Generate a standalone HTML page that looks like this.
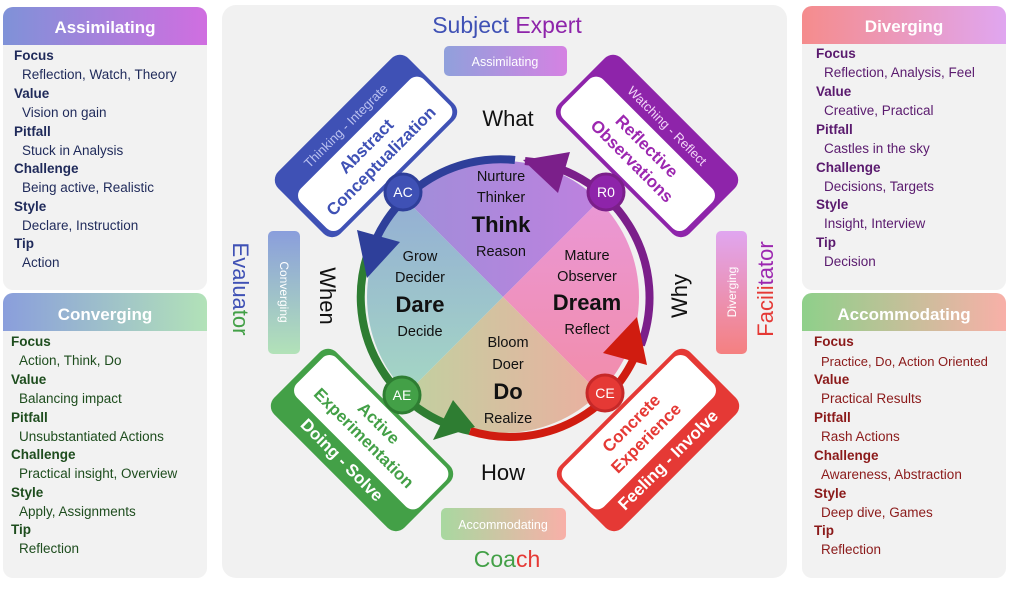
<!DOCTYPE html>
<html><head><meta charset="utf-8"><style>
html,body{margin:0;padding:0;background:#fff;}
svg{display:block;font-family:"Liberation Sans",sans-serif;}
</style></head><body>
<svg width="1024" height="591" viewBox="0 0 1024 591" xmlns="http://www.w3.org/2000/svg">
<defs>
<linearGradient id="gA" x1="0" x2="1"><stop offset="0" stop-color="#7f92d8"/><stop offset="1" stop-color="#d06ee0"/></linearGradient>
<linearGradient id="gC" x1="0" x2="1"><stop offset="0" stop-color="#8a9edc"/><stop offset="1" stop-color="#b2e2b8"/></linearGradient>
<linearGradient id="gD" x1="0" x2="1"><stop offset="0" stop-color="#f58c8c"/><stop offset="1" stop-color="#e0a6f0"/></linearGradient>
<linearGradient id="gM" x1="0" x2="1"><stop offset="0" stop-color="#8ed08a"/><stop offset="1" stop-color="#f8b0a8"/></linearGradient>
<linearGradient id="gAcc" x1="0" x2="1"><stop offset="0" stop-color="#a8d8a0"/><stop offset="1" stop-color="#f8b0a8"/></linearGradient>
<linearGradient id="gCv" x1="0" y1="0" x2="0" y2="1"><stop offset="0" stop-color="#8a9edc"/><stop offset="1" stop-color="#b2e2b8"/></linearGradient>
<linearGradient id="gDv" x1="0" y1="0" x2="0" y2="1"><stop offset="0" stop-color="#e0a6f0"/><stop offset="1" stop-color="#f58080"/></linearGradient>
<linearGradient id="gEv" x1="0" y1="0" x2="0" y2="1"><stop offset="0" stop-color="#3f51b5"/><stop offset="1" stop-color="#43a047"/></linearGradient>
<linearGradient id="gFa" x1="0" y1="0" x2="0" y2="1"><stop offset="0" stop-color="#9c27b0"/><stop offset="1" stop-color="#e53935"/></linearGradient>
<linearGradient id="qT" x1="0" x2="1"><stop offset="0" stop-color="#9a90d8"/><stop offset="1" stop-color="#c47ee0"/></linearGradient>
<linearGradient id="qR" x1="0" y1="0" x2="0" y2="1"><stop offset="0" stop-color="#e89ae0"/><stop offset="1" stop-color="#f48aa0"/></linearGradient>
<linearGradient id="qB" x1="0" x2="1"><stop offset="0" stop-color="#b8d8a0"/><stop offset="1" stop-color="#f4a8a0"/></linearGradient>
<linearGradient id="qL" x1="0" y1="0" x2="0" y2="1"><stop offset="0" stop-color="#90a6d8"/><stop offset="1" stop-color="#a8e0c0"/></linearGradient>
<clipPath id="cc"><circle cx="503" cy="297" r="136"/></clipPath>
</defs>

<!-- side cards -->
<g font-size="13.5">
<rect x="3" y="7" width="204" height="283" rx="10" fill="#f2f2f2"/>
<path d="M3 45V17a10 10 0 0 1 10-10h184a10 10 0 0 1 10 10v28z" fill="url(#gA)"/>
<text x="105" y="33" text-anchor="middle" fill="#fff" font-weight="bold" font-size="17">Assimilating</text>
<g fill="#1f2a5a"><text x="14" y="60" font-weight="bold">Focus</text><text x="22" y="79">Reflection, Watch, Theory</text><text x="14" y="98" font-weight="bold">Value</text><text x="22" y="117">Vision on gain</text><text x="14" y="136" font-weight="bold">Pitfall</text><text x="22" y="155">Stuck in Analysis</text><text x="14" y="173" font-weight="bold">Challenge</text><text x="22" y="192">Being active, Realistic</text><text x="14" y="211" font-weight="bold">Style</text><text x="22" y="230">Declare, Instruction</text><text x="14" y="248" font-weight="bold">Tip</text><text x="22" y="267">Action</text></g>

<rect x="3" y="293" width="204" height="285" rx="10" fill="#f2f2f2"/>
<path d="M3 331V303a10 10 0 0 1 10-10h184a10 10 0 0 1 10 10v28z" fill="url(#gC)"/>
<text x="105" y="320" text-anchor="middle" fill="#fff" font-weight="bold" font-size="17">Converging</text>
<g fill="#1e4d1e"><text x="11" y="346" font-weight="bold">Focus</text><text x="19" y="365">Action, Think, Do</text><text x="11" y="384" font-weight="bold">Value</text><text x="19" y="403">Balancing impact</text><text x="11" y="422" font-weight="bold">Pitfall</text><text x="19" y="441">Unsubstantiated Actions</text><text x="11" y="459" font-weight="bold">Challenge</text><text x="19" y="478">Practical insight, Overview</text><text x="11" y="497" font-weight="bold">Style</text><text x="19" y="516">Apply, Assignments</text><text x="11" y="534" font-weight="bold">Tip</text><text x="19" y="553">Reflection</text></g>

<rect x="802" y="6" width="204" height="284" rx="10" fill="#f2f2f2"/>
<path d="M802 44V16a10 10 0 0 1 10-10h184a10 10 0 0 1 10 10v28z" fill="url(#gD)"/>
<text x="904" y="32" text-anchor="middle" fill="#fff" font-weight="bold" font-size="17">Diverging</text>
<g fill="#5a1a6e"><text x="816" y="58" font-weight="bold">Focus</text><text x="824" y="77">Reflection, Analysis, Feel</text><text x="816" y="96" font-weight="bold">Value</text><text x="824" y="115">Creative, Practical</text><text x="816" y="134" font-weight="bold">Pitfall</text><text x="824" y="153">Castles in the sky</text><text x="816" y="172" font-weight="bold">Challenge</text><text x="824" y="191">Decisions, Targets</text><text x="816" y="209" font-weight="bold">Style</text><text x="824" y="228">Insight, Interview</text><text x="816" y="247" font-weight="bold">Tip</text><text x="824" y="266">Decision</text></g>

<rect x="802" y="293" width="204" height="285" rx="10" fill="#f2f2f2"/>
<path d="M802 331V303a10 10 0 0 1 10-10h184a10 10 0 0 1 10 10v28z" fill="url(#gM)"/>
<text x="904" y="320" text-anchor="middle" fill="#fff" font-weight="bold" font-size="17">Accommodating</text>
<g fill="#8b1a1a"><text x="814" y="346" font-weight="bold">Focus</text><text x="821" y="366" font-size="13">Practice, Do, Action Oriented</text><text x="814" y="384" font-weight="bold">Value</text><text x="821" y="403">Practical Results</text><text x="814" y="422" font-weight="bold">Pitfall</text><text x="821" y="441">Rash Actions</text><text x="814" y="460" font-weight="bold">Challenge</text><text x="821" y="479">Awareness, Abstraction</text><text x="814" y="498" font-weight="bold">Style</text><text x="821" y="517">Deep dive, Games</text><text x="814" y="535" font-weight="bold">Tip</text><text x="821" y="554">Reflection</text></g>
</g>

<!-- center panel -->
<rect x="222" y="5" width="565" height="573" rx="14" fill="#f1f1f1"/>
<text x="507" y="33" text-anchor="middle" font-size="23"><tspan fill="#3f51b5">Subject </tspan><tspan fill="#8e24aa">Expert</tspan></text>
<text x="507" y="567" text-anchor="middle" font-size="23"><tspan fill="#43a047">Coa</tspan><tspan fill="#e53935">ch</tspan></text>
<text transform="translate(233,289) rotate(90)" text-anchor="middle" font-size="22" fill="url(#gEv)" fill-opacity="1"><tspan fill="#3f51b5">Evalua</tspan><tspan fill="#43a047">tor</tspan></text>
<text transform="translate(773,289) rotate(-90)" text-anchor="middle" font-size="22"><tspan fill="#e53935">Facili</tspan><tspan fill="#9c27b0">tator</tspan></text>

<rect x="444" y="46" width="123" height="30" rx="5" fill="url(#gA)" opacity="0.85"/>
<text x="505" y="66" text-anchor="middle" fill="#fff" font-size="12.5">Assimilating</text>
<rect x="441" y="508" width="125" height="32" rx="5" fill="url(#gAcc)"/>
<text x="503" y="529" text-anchor="middle" fill="#fff" font-size="12.5">Accommodating</text>
<rect x="268" y="231" width="32" height="123" rx="5" fill="url(#gCv)"/>
<text transform="translate(280,292) rotate(90)" text-anchor="middle" fill="#fff" font-size="12">Converging</text>
<rect x="716" y="231" width="31" height="123" rx="5" fill="url(#gDv)"/>
<text transform="translate(736,292) rotate(-90)" text-anchor="middle" fill="#fff" font-size="12">Diverging</text>

<!-- quadrants -->
<g clip-path="url(#cc)">
<polygon points="503,297 363,157 643,157" fill="url(#qT)"/>
<polygon points="503,297 643,157 643,437" fill="url(#qR)"/>
<polygon points="503,297 643,437 363,437" fill="url(#qB)"/>
<polygon points="503,297 363,437 363,157" fill="url(#qL)"/>
</g>

<!-- arcs -->
<g fill="none" stroke-width="8">
<path d="M515 160 A137 137 0 0 0 370 255" stroke="#2e3f9a"/>
<path d="M369 250 A137 137 0 0 0 470 431" stroke="#2e7d32"/>
<path d="M470 431 A137 137 0 0 0 641 340" stroke="#d01c10"/>
<path d="M641 345 A137 137 0 0 0 525 161" stroke="#7b1f8a"/>
</g>
<polygon points="357,230 400,242 367,278" fill="#2e3f9a"/>
<polygon points="433,440 453,400 475,427" fill="#2e7d32"/>
<polygon points="603,353 637,317 647,365" fill="#d01c10"/>
<polygon points="523,160 570,152 558,193" fill="#7b1f8a"/>

<!-- center text -->
<g text-anchor="middle" font-size="14.5" fill="#111">
<text x="501" y="181">Nurture</text><text x="501" y="202">Thinker</text><text x="501" y="232" font-size="22" font-weight="bold">Think</text><text x="501" y="256">Reason</text>
<text x="420" y="261">Grow</text><text x="420" y="282">Decider</text><text x="420" y="312" font-size="22" font-weight="bold">Dare</text><text x="420" y="336">Decide</text>
<text x="587" y="260">Mature</text><text x="587" y="281">Observer</text><text x="587" y="310" font-size="22" font-weight="bold">Dream</text><text x="587" y="334">Reflect</text>
<text x="508" y="347">Bloom</text><text x="508" y="369">Doer</text><text x="508" y="399" font-size="22" font-weight="bold">Do</text><text x="508" y="423">Realize</text>
<text x="508" y="126" font-size="22">What</text>
<text x="503" y="480" font-size="22">How</text>
<text transform="translate(320,296) rotate(90)" font-size="22">When</text>
<text transform="translate(687,296) rotate(-90)" font-size="22">Why</text>
</g>

<!-- boxes -->
<g text-anchor="middle" font-weight="bold">
<g transform="translate(366,146) rotate(-45)">
<rect x="-92" y="-44" width="184" height="88" rx="12" fill="#3f51b5"/>
<rect x="-86" y="-16" width="174" height="56" rx="10" fill="#fff"/>
<text y="-24" fill="#b9c0f0" font-size="13" font-weight="normal">Thinking - Integrate</text>
<text y="6" fill="#3f51b5" font-size="17">Abstract</text>
<text y="27" fill="#3f51b5" font-size="17">Conceptualization</text>
</g>
<g transform="translate(647,146) rotate(45)">
<rect x="-92" y="-44" width="184" height="88" rx="12" fill="#8e24aa"/>
<rect x="-88" y="-16" width="174" height="56" rx="10" fill="#fff"/>
<text y="-24" fill="#f2d4f8" font-size="13" font-weight="normal">Watching - Reflect</text>
<text y="6" fill="#9c27b0" font-size="17">Reflective</text>
<text y="27" fill="#9c27b0" font-size="17">Observations</text>
</g>
<g transform="translate(362,440) rotate(45)">
<rect x="-92" y="-44" width="184" height="88" rx="12" fill="#43a047"/>
<rect x="-86" y="-40" width="174" height="56" rx="10" fill="#fff"/>
<text y="-18" fill="#43a047" font-size="17">Active</text>
<text y="3" fill="#43a047" font-size="17">Experimentation</text>
<text y="34" fill="#fff" font-size="17">Doing - Solve</text>
</g>
<g transform="translate(648,440) rotate(-45)">
<rect x="-92" y="-44" width="184" height="88" rx="12" fill="#e53935"/>
<rect x="-88" y="-40" width="174" height="56" rx="10" fill="#fff"/>
<text y="-18" fill="#e53935" font-size="17">Concrete</text>
<text y="3" fill="#e53935" font-size="17">Experience</text>
<text y="34" fill="#fff" font-size="17">Feeling - Involve</text>
</g>
</g>

<!-- nodes -->
<g text-anchor="middle" fill="#fff" font-size="14">
<circle cx="403" cy="192" r="18" fill="#3f51b5" stroke="#2e3f9a" stroke-width="3"/><text x="403" y="197">AC</text>
<circle cx="606" cy="192" r="18" fill="#8e24aa" stroke="#7b1f8a" stroke-width="3"/><text x="606" y="197">R0</text>
<circle cx="402" cy="395" r="18" fill="#43a047" stroke="#2e7d32" stroke-width="3"/><text x="402" y="400">AE</text>
<circle cx="605" cy="393" r="18" fill="#e53935" stroke="#c62828" stroke-width="3"/><text x="605" y="398">CE</text>
</g>
</svg>
</body></html>
